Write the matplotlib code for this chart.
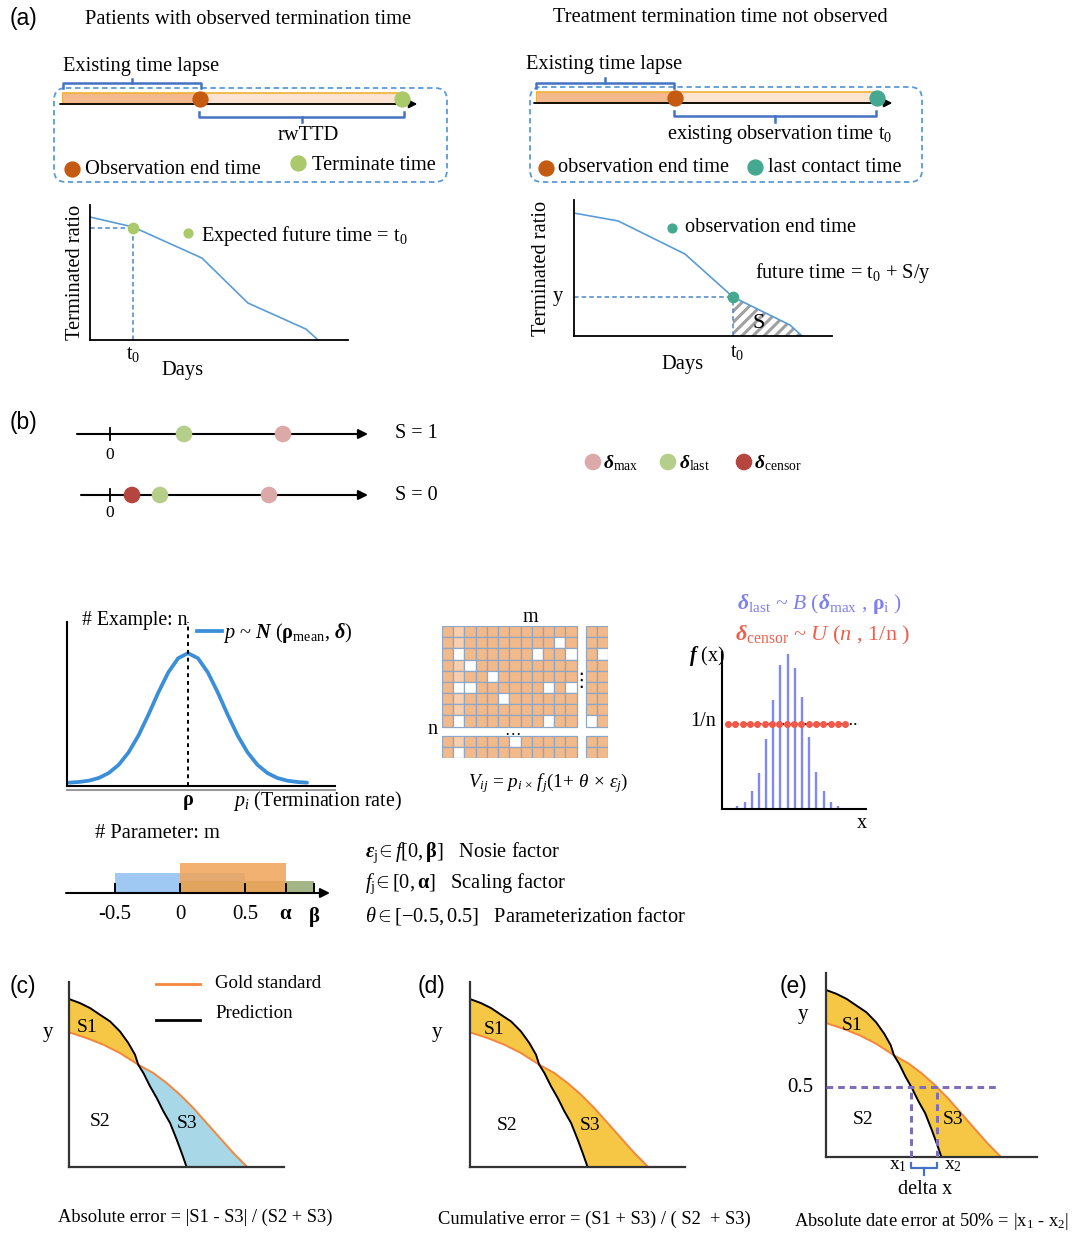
import matplotlib
matplotlib.use("Agg")
import matplotlib.pyplot as plt
from matplotlib.patches import FancyBboxPatch, Rectangle

plt.rcParams['font.family'] = ['Liberation Serif', 'DejaVu Serif']
plt.rcParams['mathtext.fontset'] = 'custom'
plt.rcParams['mathtext.rm'] = 'Liberation Serif'
plt.rcParams['mathtext.it'] = 'Liberation Serif:italic'
plt.rcParams['mathtext.bf'] = 'Liberation Serif:bold'
plt.rcParams['mathtext.bfit'] = 'Liberation Serif:italic:bold'
plt.rcParams['hatch.linewidth'] = 2.2

W, H = 1075, 1233

# ---- data ----
# (a) timelines, days on a 0-100 scale
obs_end_left, term_left = 40.6, 100
obs_end_right, contact_right = 40.8, 100

# (a) terminated ratio curves
days_obs = [0, 1.67, 4.34, 6.12, 8.37, 8.84]
ratio_obs = [0.911, 0.837, 0.607, 0.274, 0.081, 0.0]
t0_obs, y_t0_obs = 1.67, 0.83
days_cens = [0, 1.71, 4.3, 6.16, 8.37, 8.84]
ratio_cens = [0.904, 0.846, 0.603, 0.287, 0.081, 0.0]
t0_idx = 3

# (b) delta positions
s1_last, s1_max = 7.4, 17.3
s0_censor, s0_last, s0_max = 2.2, 5.0, 15.9

# normal curve p ~ N
z_pts = [-3.4, -3.117, -2.833, -2.55, -2.267, -1.983, -1.7, -1.417, -1.133, -0.85, -0.567, -0.283, 0,
         0.283, 0.567, 0.85, 1.133, 1.417, 1.7, 1.983, 2.267, 2.55, 2.833, 3.117, 3.4]
dens_pts = [0.003, 0.008, 0.018, 0.039, 0.077, 0.14, 0.236, 0.366, 0.526, 0.697, 0.851, 0.961, 1.0,
            0.961, 0.851, 0.697, 0.526, 0.366, 0.236, 0.14, 0.077, 0.039, 0.018, 0.008, 0.003]

# value matrix, blank cells (row, col)
n_rows, n_cols = 11, 14
blank_cells = [(1, 10), (2, 1), (2, 8), (2, 11), (3, 2), (4, 4), (5, 1), (5, 2), (5, 9), (5, 11),
               (6, 5), (8, 1), (8, 9), (2, 13), (8, 12), (9, 6), (10, 1)]

# binomial / uniform
binom_h = [0.017, 0.045, 0.113, 0.229, 0.446, 0.692, 0.915, 0.989, 0.898, 0.713, 0.459, 0.234,
           0.113, 0.045, 0.017, 0.006]
unif_x = [-1.3, -0.28, 0.74, 1.76, 2.78, 3.8, 4.82, 5.84, 6.86, 7.88, 8.9, 9.92, 10.94, 11.96,
          12.98, 14.0, 15.02]
unif_level = 0.541

# parameter ranges
alpha_val, beta_val = 0.815, 1.03
theta_lo, theta_hi = -0.5, 0.5
tick_vals = [-0.5, 0, 0.5, alpha_val, beta_val]
tick_lbls = ['-0.5', '0', '0.5', r'$\mathbf{\alpha}$', r'$\mathbf{\beta}$']

# (c)-(e) curves
pred_x = [0, 0.51, 0.98, 1.44, 1.91, 2.37, 2.76, 3.07, 3.22, 3.46, 3.77, 4.08, 4.39, 4.70, 5.01, 5.24, 5.47]
pred_y = [0.908, 0.886, 0.859, 0.823, 0.787, 0.733, 0.670, 0.607, 0.553, 0.508, 0.436, 0.373, 0.301,
          0.238, 0.148, 0.076, 0.0]
gold_x = [0, 0.82, 1.60, 2.37, 3.22, 3.92, 4.54, 5.16, 5.78, 6.40, 7.02, 7.64, 8.29]
gold_y = [0.728, 0.697, 0.661, 0.616, 0.553, 0.508, 0.454, 0.391, 0.319, 0.238, 0.157, 0.076, 0.0]
cross_p, cross_g = 8, 4
half_level = 0.38
x1_val, x2_val = 4.05, 5.25

BLUE_LINE = '#5b9bd5'
BRACE = '#4472c4'
BROWN = '#c55a11'
GREEN = '#a9c96b'
TEAL = '#45a890'
FS = 14.7

fig = plt.figure(figsize=(W / 100, H / 100), dpi=100)


def add_ax(x0, y0, x1, y1):
    return fig.add_axes([x0 / W, 1 - y1 / H, (x1 - x0) / W, (y1 - y0) / H])


def lframe(ax, lw=1.3, color='black'):
    for s in ['top', 'right']:
        ax.spines[s].set_visible(False)
    for s in ['left', 'bottom']:
        ax.spines[s].set_linewidth(lw)
        ax.spines[s].set_color(color)
    ax.set_xticks([])
    ax.set_yticks([])
    ax.patch.set_alpha(0)


cv = fig.add_axes([0, 0, 1, 1])
cv.set_xlim(0, W)
cv.set_ylim(H, 0)
cv.axis('off')
cv.set_zorder(10)


def txt(x, y, s, size=FS, ha='left', va='center', **kw):
    cv.text(x, y, s, fontsize=size, ha=ha, va=va, **kw)


def brace(x0, x1, y, end_dy, mid_dy):
    xm = (x0 + x1) / 2
    cv.plot([x0, x0, x1, x1], [y + end_dy, y, y, y + end_dy], color=BRACE, lw=1.8)
    cv.plot([xm, xm], [y, y + mid_dy], color=BRACE, lw=1.8)


def dashed_box(x0, y0, x1, y1):
    cv.add_patch(FancyBboxPatch((x0, y0), x1 - x0, y1 - y0, boxstyle='round,pad=0,rounding_size=12',
                                fill=False, ec=BLUE_LINE, lw=1.3, ls=(0, (3, 2))))


# ================= (a) =================
txt(10, 18, '(a)', size=16.5, family='Liberation Sans')
txt(248, 20, 'Patients with observed termination time', ha='center', size=14.8)
txt(720, 18, 'Treatment termination time not observed', ha='center', size=14.8)


def timeline(box, obs, end, end_color):
    ax = add_ax(*box)
    ax.set_xlim(0, 100)
    ax.set_ylim(0, 28)
    ax.axis('off')
    ax.barh(14.5, obs, left=0, height=11, color='#f3b88c', edgecolor='#f2b134', lw=1.2)
    ax.barh(14.5, end - obs, left=obs, height=11, color='#fde4d2', edgecolor='#f2b134', lw=1.2)
    ax.annotate('', xy=(104.5, 9), xytext=(-0.6, 9),
                arrowprops=dict(arrowstyle='-|>', color='black', lw=1.3, mutation_scale=12,
                                shrinkA=0, shrinkB=0), annotation_clip=False)
    ax.scatter([obs], [14.5], s=115, color=BROWN, zorder=5, clip_on=False)
    ax.scatter([end], [14.5], s=115, color=end_color, zorder=5, clip_on=False)


dashed_box(54, 88, 447, 182)
dashed_box(530, 87, 922, 182)
timeline((62, 85, 402, 113), obs_end_left, term_left, GREEN)
timeline((536, 84, 877, 112), obs_end_right, contact_right, TEAL)

brace(63, 201, 83, 5, -4)
brace(199, 404, 117, -5, 5)
brace(536, 674, 83, 5, -5)
brace(674, 876, 116, -5, 6)

txt(63, 67, 'Existing time lapse')
txt(526, 64, 'Existing time lapse')
txt(308, 135, 'rwTTD', ha='center')
txt(667, 135, r'existing observation time t$_0$')
cv.scatter([72], [169], s=115, color=BROWN)
txt(85, 169, 'Observation end time')
cv.scatter([298], [163], s=115, color=GREEN)
txt(312, 166, 'Terminate time')
cv.scatter([546], [168], s=115, color=BROWN)
txt(558, 168, 'observation end time')
cv.scatter([755], [167], s=115, color=TEAL)
txt(768, 167, 'last contact time')

# left curve
ax = add_ax(90, 205, 348, 340)
lframe(ax)
ax.set_xlim(0, 10)
ax.set_ylim(0, 1)
ax.plot(days_obs, ratio_obs, color=BLUE_LINE, lw=1.2)
ax.plot([0, t0_obs], [y_t0_obs, y_t0_obs], color='#4a86c8', lw=1.1, ls=(0, (3, 2)))
ax.plot([t0_obs, t0_obs], [0, y_t0_obs], color='#4a86c8', lw=1.1, ls=(0, (3, 2)))
ax.scatter([t0_obs], [y_t0_obs], s=55, color=GREEN, zorder=5)
txt(75, 272, 'Terminated ratio', ha='center', rotation=90)
txt(133, 354, r't$_0$', ha='center')
txt(183, 370, 'Days', ha='center')
cv.scatter([188], [233], s=40, color=GREEN)
txt(201, 236, r'Expected future time = t$_0$')

# right curve
ax = add_ax(574, 200, 832, 336)
lframe(ax)
ax.set_xlim(0, 10)
ax.set_ylim(0, 1)
ax.fill_between(days_cens[t0_idx:], ratio_cens[t0_idx:], 0, facecolor='white', edgecolor='#a0a0a0',
                hatch='///', lw=0)
ax.plot(days_cens, ratio_cens, color=BLUE_LINE, lw=1.2)
tx, ty = days_cens[t0_idx], ratio_cens[t0_idx]
ax.plot([0, tx], [ty, ty], color='#4a86c8', lw=1.1, ls=(0, (3, 2)))
ax.plot([tx, tx], [0, ty], color='#4a86c8', lw=1.1, ls=(0, (3, 2)))
ax.scatter([tx], [ty], s=55, color=TEAL, zorder=5)
txt(542, 268, 'Terminated ratio', ha='center', rotation=90)
txt(558, 297, 'y', ha='center')
txt(737, 352, r't$_0$', ha='center')
txt(683, 365, 'Days', ha='center')
txt(759, 323, 'S', ha='center', size=16)
cv.scatter([672], [228], s=40, color=TEAL)
txt(685, 228, 'observation end time')
txt(755, 273, r'future time = t$_0$ + S/y')

# ================= (b) =================
txt(10, 423, '(b)', size=16.5, family='Liberation Sans')
PINK, LGREEN, RED = '#dba9a8', '#b5cf8a', '#b5453f'
ax = add_ax(77, 434, 368, 495)
ax.set_xlim(-3.3, 25.8)
ax.set_ylim(0, 1)
ax.axis('off')
for row, start in [(1, -3.3), (0, -2.9)]:
    ax.annotate('', xy=(25.8, row), xytext=(start, row),
                arrowprops=dict(arrowstyle='-|>', color='black', lw=1.5, mutation_scale=14,
                                shrinkA=0, shrinkB=0), annotation_clip=False)
    ax.plot([0, 0], [row - 0.1, row + 0.1], color='black', lw=1.3, clip_on=False)
ax.scatter([s1_last, s1_max], [1, 1], s=120, color=[LGREEN, PINK], zorder=5, clip_on=False)
ax.scatter([s0_censor, s0_last, s0_max], [0, 0, 0], s=120, color=[RED, LGREEN, PINK], zorder=5,
           clip_on=False)
txt(110, 455, '0', ha='center', size=12.5)
txt(110, 513, '0', ha='center', size=12.5)
txt(395, 434, 'S = 1', size=14.5)
txt(395, 495, 'S = 0', size=14.5)

cv.scatter([593, 668, 744], [462, 462, 462], s=120, color=[PINK, LGREEN, RED])
txt(603, 463, r'$\mathbfit{\delta}_{\mathrm{max}}$', size=14)
txt(679, 463, r'$\mathbfit{\delta}_{\mathrm{last}}$', size=14)
txt(754, 463, r'$\mathbfit{\delta}_{\mathrm{censor}}$', size=14)

# normal curve
NBLUE = '#3b8ed8'
ax = add_ax(67, 622, 335, 786)
lframe(ax, lw=1.5)
ax.set_xlim(-3.46, 4.2)
ax.set_ylim(-0.023, 1.24)
ax.plot(z_pts, dens_pts, color=NBLUE, lw=2.7, solid_capstyle='round')
ax.axvline(0, color='black', lw=1.4, ls=(0, (2, 2)))
cv.plot([67, 335], [789.5, 789.5], color='#9a9a9a', lw=1.5)
txt(82, 621, '# Example: n', size=14.2)
cv.plot([197, 222], [631, 631], color=NBLUE, lw=2.7)
txt(223, 633, r'$p$ ~ $\mathbfit{N}$ ($\mathbf{\rho}_{\mathrm{mean}}$, $\mathbfit{\delta}$)', size=14.6)
txt(188, 802, r'$\mathbf{\rho}$', ha='center', size=14.5)
txt(233, 801, r'$p_i$ (Termination rate)', size=14.4)

# matrix
ax = add_ax(442, 626, 608, 758)
ax.set_xlim(0, 14.8)
ax.set_ylim(11.8, 0)
ax.axis('off')
for r in range(n_rows):
    for c in range(n_cols):
        xx = c + (0.8 if c >= 12 else 0)
        yy = r + (0.8 if r >= 9 else 0)
        if (r, c) in blank_cells:
            fc = 'white'
        elif c == 1:
            fc = '#f7cfac'
        else:
            fc = '#f2b98a'
        ax.add_patch(Rectangle((xx, yy), 1, 1, facecolor=fc, edgecolor='#8fa6c4', lw=0.9))
txt(530, 617, 'm', ha='center', size=14.5)
txt(432, 729, 'n', ha='center', size=14.5)
txt(581, 681, '⋮', ha='center', size=14, family=['DejaVu Sans'])
txt(513, 731, '…', ha='center', size=12)
txt(548, 783, r'$V_{ij}$ = $p_{i\,\times}\,f_j(1\!+\,\theta\,\times\,\epsilon_j)$', ha='center', size=13.8)

# binomial / uniform
ax = add_ax(722, 652, 866, 809)
lframe(ax, lw=1.5)
ax.set_xlim(-2.13, 17.9)
ax.set_ylim(0, 1)
ax.vlines(range(len(binom_h)), 0, binom_h, color='#8088f2', lw=1.7)
ax.plot([-1.3, 16.95], [unif_level, unif_level], color='black', lw=1.3, ls=(0, (1, 1.5)), zorder=1)
ax.scatter(unif_x, [unif_level] * len(unif_x), s=16, color='#f0584a', zorder=4, clip_on=False)
txt(737, 604, r'$\mathbfit{\delta}_{\mathrm{last}}$ ~ $B$ ($\mathbfit{\delta}_{\mathrm{max}}$ , $\mathbf{\rho}_{\mathrm{i}}$ )',
    size=15.6, color='#7c80f0')
txt(735, 635, r'$\mathbfit{\delta}_{\mathrm{censor}}$ ~ $U$ ($n$ , 1/n )', size=16, color='#ef5f4c')
txt(707, 656, r'$\mathbfit{f}$ (x)', ha='center', size=14.5)
txt(716, 722, '1/n', ha='right', size=14.5)
txt(862, 824, 'x', ha='center', size=14.5)

# parameter ranges
ax = add_ax(66, 860, 330, 893)
ax.set_xlim(-0.877, 1.154)
ax.set_ylim(0, 1)
ax.axis('off')
ax.bar(theta_lo, 0.6, width=theta_hi - theta_lo, align='edge', color='#9ac6f3', alpha=0.95)
ax.bar(0, 0.36, width=beta_val, align='edge', color='#94aa70', alpha=0.85)
ax.bar(0, 0.91, width=alpha_val, align='edge', color='#f0a458', alpha=0.85)
ax.annotate('', xy=(1.154, 0), xytext=(-0.877, 0),
            arrowprops=dict(arrowstyle='-|>', color='black', lw=1.5, mutation_scale=14,
                            shrinkA=0, shrinkB=0), annotation_clip=False)
ax.vlines(tick_vals, 0, 0.3, color='black', lw=1.4)
for v, lb in zip(tick_vals, tick_lbls):
    ax.text(v, -0.35, lb, ha='center', va='top', fontsize=15, clip_on=False)
txt(95, 834, '# Parameter: m')
txt(365, 853, r'$\mathbfit{\epsilon}_{\mathrm{j}}\!\in\mathit{f[0,}\mathbf{\beta}\mathit{]}$   Nosie factor')
txt(365, 884, r'$\mathit{f}_{\mathrm{j}}\!\in\mathit{[0,}\mathbf{\alpha}\mathit{]}$   Scaling factor')
txt(365, 916, r'$\theta\in\mathit{[-0.5,0.5]}$   Parameterization factor')

# ================= (c) (d) (e) =================
YEL = '#f6c744'
ORG = '#f4863b'


def error_panel(box, s3_color):
    ax = add_ax(*box)
    lframe(ax, lw=1.6, color='#333333')
    ax.set_xlim(0, 10)
    ax.set_ylim(0, 1)
    s1_x = pred_x[:cross_p + 1] + gold_x[:cross_g + 1][::-1]
    s1_y = pred_y[:cross_p + 1] + gold_y[:cross_g + 1][::-1]
    ax.fill(s1_x, s1_y, color=YEL, lw=0)
    s3_x = gold_x[cross_g:] + pred_x[cross_p:][::-1]
    s3_y = gold_y[cross_g:] + pred_y[cross_p:][::-1]
    ax.fill(s3_x, s3_y, color=s3_color, lw=0)
    ax.plot(gold_x, gold_y, color=ORG, lw=1.4)
    ax.plot(pred_x, pred_y, color='black', lw=1.4)
    return ax


error_panel((69, 982, 284, 1167), '#a8d8e8')
txt(10, 987, '(c)', size=16.5, family='Liberation Sans')
cv.plot([156, 200], [984, 984], color=ORG, lw=2)
txt(215, 984, 'Gold standard', size=13.6)
cv.plot([156, 200], [1020, 1020], color='black', lw=2)
txt(215, 1014, 'Prediction', size=13.6)
txt(48, 1033, 'y', ha='center', size=15)
txt(87, 1027, 'S1', ha='center', size=14)
txt(100, 1122, 'S2', ha='center', size=14)
txt(187, 1124, 'S3', ha='center', size=14)
txt(195, 1217, 'Absolute error = |S1 - S3| / (S2 + S3)', ha='center', size=13.3)

error_panel((470, 982, 685, 1167), YEL)
txt(418, 987, '(d)', size=16.5, family='Liberation Sans')
txt(437, 1033, 'y', ha='center', size=15)
txt(494, 1030, 'S1', ha='center', size=14)
txt(507, 1126, 'S2', ha='center', size=14)
txt(590, 1126, 'S3', ha='center', size=14)
txt(594, 1219, 'Cumulative error = (S1 + S3) / ( S2  + S3)', ha='center', size=13.3)

ax = error_panel((826, 973, 1037, 1157), YEL)
PURP = '#7f6db5'
ax.plot([0, 8.15], [half_level, half_level], color=PURP, lw=2.2, ls=(0, (2.2, 1.6)), zorder=5)
ax.plot([x1_val, x1_val], [0, half_level], color=PURP, lw=2.2, ls=(0, (2.2, 1.6)), zorder=5)
ax.plot([x2_val, x2_val], [0, half_level], color=PURP, lw=2.2, ls=(0, (2.2, 1.6)), zorder=5)
ax.plot([x1_val, x1_val, x2_val, x2_val], [-0.03, -0.06, -0.06, -0.03], color=BRACE, lw=1.6,
        clip_on=False)
xm = (x1_val + x2_val) / 2
ax.plot([xm, xm], [-0.06, -0.1], color=BRACE, lw=1.6, clip_on=False)
txt(780, 987, '(e)', size=16.5, family='Liberation Sans')
txt(803, 1015, 'y', ha='center', size=15)
txt(800, 1087, '0.5', ha='center', size=15)
txt(852, 1025, 'S1', ha='center', size=14)
txt(863, 1120, 'S2', ha='center', size=14)
txt(953, 1120, 'S3', ha='center', size=14)
txt(898, 1166, r'x$_1$', ha='center', size=14)
txt(953, 1166, r'x$_2$', ha='center', size=14)
txt(925, 1189, 'delta x', ha='center', size=14.5)
txt(932, 1221, r'Absolute date error at 50% = |x$_1$ - x$_2$|', ha='center', size=13.3)

fig.savefig('out.png', dpi=100)
